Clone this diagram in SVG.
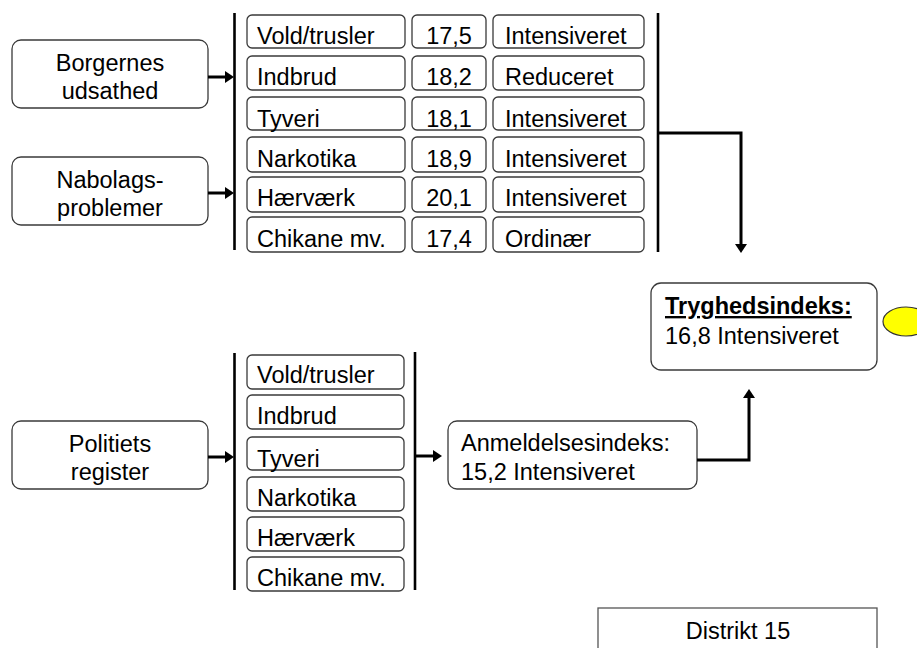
<svg xmlns="http://www.w3.org/2000/svg" width="917" height="648" viewBox="0 0 917 648">
<style>
text{font-family:"Liberation Sans",Arial,sans-serif;font-size:23.5px;fill:#000}
.box{fill:#fff;stroke:#3a3a3a;stroke-width:1.3}
.c{text-anchor:middle}
.bar{stroke:#000;stroke-width:2.6;fill:none}
.con{stroke:#000;stroke-width:3;fill:none}
</style>
<defs>
<marker id="ah" viewBox="0 0 9 12" markerWidth="9" markerHeight="12" refX="3" refY="6" orient="auto" markerUnits="userSpaceOnUse">
<path d="M0,0 L9,6 L0,12 z" fill="#000"/>
</marker>
</defs>
<rect width="917" height="648" fill="#fff"/>

<g id="borgernes">
<rect class="box" x="12" y="40" width="196" height="68" rx="9"/>
<text class="c" x="110" y="71">Borgernes</text>
<text class="c" x="110" y="99">udsathed</text>
</g>
<g id="nabolag">
<rect class="box" x="12" y="157" width="196" height="68" rx="9"/>
<text class="c" x="110" y="188">Nabolags-</text>
<text class="c" x="110" y="216">problemer</text>
</g>
<g id="politiets">
<rect class="box" x="12" y="421" width="196" height="68" rx="9"/>
<text class="c" x="110" y="452">Politiets</text>
<text class="c" x="110" y="480">register</text>
</g>

<g id="survey-table">
<rect class="box" x="247" y="15" width="158" height="33" rx="5"/>
<rect class="box" x="412" y="15" width="74" height="33" rx="5"/>
<rect class="box" x="493" y="15" width="151" height="33" rx="5"/>
<text x="257" y="44">Vold/trusler</text><text class="c" x="449" y="44">17,5</text><text x="505" y="44">Intensiveret</text>
<rect class="box" x="247" y="56" width="158" height="34" rx="5"/>
<rect class="box" x="412" y="56" width="74" height="34" rx="5"/>
<rect class="box" x="493" y="56" width="151" height="34" rx="5"/>
<text x="257" y="85">Indbrud</text><text class="c" x="449" y="85">18,2</text><text x="505" y="85">Reduceret</text>
<rect class="box" x="247" y="97" width="158" height="33" rx="5"/>
<rect class="box" x="412" y="97" width="74" height="33" rx="5"/>
<rect class="box" x="493" y="97" width="151" height="33" rx="5"/>
<text x="257" y="127">Tyveri</text><text class="c" x="449" y="127">18,1</text><text x="505" y="127">Intensiveret</text>
<rect class="box" x="247" y="137" width="158" height="35" rx="5"/>
<rect class="box" x="412" y="137" width="74" height="35" rx="5"/>
<rect class="box" x="493" y="137" width="151" height="35" rx="5"/>
<text x="257" y="167">Narkotika</text><text class="c" x="449" y="167">18,9</text><text x="505" y="167">Intensiveret</text>
<rect class="box" x="247" y="177" width="158" height="35" rx="5"/>
<rect class="box" x="412" y="177" width="74" height="35" rx="5"/>
<rect class="box" x="493" y="177" width="151" height="35" rx="5"/>
<text x="257" y="206">Hærværk</text><text class="c" x="449" y="206">20,1</text><text x="505" y="206">Intensiveret</text>
<rect class="box" x="247" y="217" width="158" height="35" rx="5"/>
<rect class="box" x="412" y="217" width="74" height="35" rx="5"/>
<rect class="box" x="493" y="217" width="151" height="35" rx="5"/>
<text x="257" y="247">Chikane mv.</text><text class="c" x="449" y="247">17,4</text><text x="505" y="247">Ordinær</text>
</g>

<g id="police-table">
<rect class="box" x="247" y="355" width="157" height="34" rx="5"/>
<text x="257" y="383">Vold/trusler</text>
<rect class="box" x="247" y="395" width="157" height="34" rx="5"/>
<text x="257" y="424">Indbrud</text>
<rect class="box" x="247" y="437" width="157" height="33" rx="5"/>
<text x="257" y="467">Tyveri</text>
<rect class="box" x="247" y="477" width="157" height="34" rx="5"/>
<text x="257" y="506">Narkotika</text>
<rect class="box" x="247" y="517" width="157" height="34" rx="5"/>
<text x="257" y="546">Hærværk</text>
<rect class="box" x="247" y="557" width="157" height="34" rx="5"/>
<text x="257" y="586">Chikane mv.</text>
</g>

<g id="anmeldelse">
<rect class="box" x="448" y="421" width="249" height="68" rx="9"/>
<text x="461" y="451">Anmeldelsesindeks:</text>
<text x="461" y="480">15,2 Intensiveret</text>
</g>

<g id="tryghed">
<rect class="box" x="651" y="283" width="226" height="87" rx="10"/>
<text x="665" y="314" font-weight="bold" text-decoration="underline">Tryghedsindeks:</text>
<text x="665" y="344">16,8 Intensiveret</text>
</g>

<g id="status">
<ellipse cx="906" cy="321.5" rx="23" ry="14.5" fill="#ffff00" stroke="#333" stroke-width="1.2"/>
</g>

<g id="distrikt">
<rect x="598" y="608" width="279" height="60" fill="#fff" stroke="#555" stroke-width="1.3"/>
<text class="c" x="738" y="639">Distrikt 15</text>
</g>

<g id="connectors">
<line class="bar" x1="234.5" y1="13" x2="234.5" y2="250"/>
<line class="bar" x1="658" y1="13" x2="658" y2="252"/>
<line class="bar" x1="234.5" y1="353" x2="234.5" y2="590"/>
<line class="bar" x1="415" y1="352" x2="415" y2="590"/>
<line class="con" x1="208" y1="77" x2="228" y2="77" marker-end="url(#ah)"/>
<line class="con" x1="208" y1="193" x2="228" y2="193" marker-end="url(#ah)"/>
<line class="con" x1="208" y1="457" x2="228" y2="457" marker-end="url(#ah)"/>
<line class="con" x1="416" y1="456" x2="436" y2="456" marker-end="url(#ah)"/>
<path class="con" d="M658,133 H741 V247" marker-end="url(#ah)"/>
<path class="con" d="M697,460 H749 V395" marker-end="url(#ah)"/>
</g>
</svg>
